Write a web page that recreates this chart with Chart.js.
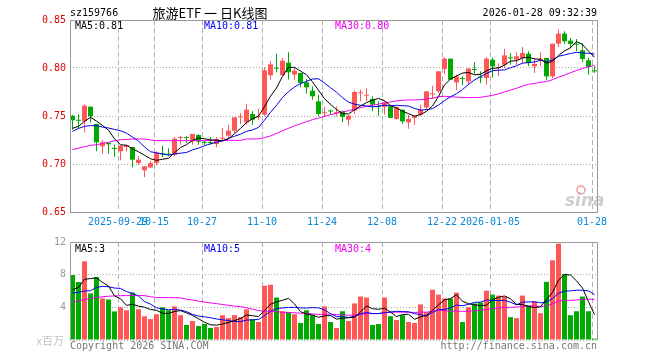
<!DOCTYPE html>
<html>
<head>
<meta charset="utf-8">
<script src="https://cdn.jsdelivr.net/npm/chart.js@4"></script>
<style>
  body { margin: 0; background: #fff; }
  #wrap { position: relative; width: 660px; height: 360px; }
  canvas { position: absolute; left: 0; }
</style>
</head>
<body>
<div id="wrap">
  <canvas id="kChart" width="660" height="232" style="top:0"></canvas>
  <canvas id="volChart" width="660" height="128" style="top:232px"></canvas>
</div>
<script>
// date ticks (index of the trading day the dashed line sits on)
const tickIdx = [8, 14, 22, 32, 42, 52, 62, 70, 87];
const tickLabels = ['2025-09-29', '10-15', '10-27', '11-10', '11-24', '12-08', '12-22', '2026-01-05', '01-28'];
const priceTicks = [0.65, 0.70, 0.75, 0.80, 0.85];
const volTicks = [0, 4, 8, 12];

// daily candles, 2025-09-17 .. 2026-01-28
const open = [0.7503,0.7452,0.7444,0.7597,0.7417,0.7184,0.7219,0.7160,0.7132,0.7177,
  0.7177,0.7010,0.6934,0.6965,0.7010,0.7108,0.7101,0.7097,0.7271,0.7274,
  0.7243,0.7302,0.7222,0.7222,0.7208,0.7264,0.7295,0.7347,0.7486,0.7434,
  0.7521,0.7486,0.7514,0.7924,0.7997,0.7924,0.8056,0.7931,0.7948,0.7850,
  0.7764,0.7653,0.7528,0.7550,0.7529,0.7549,0.7462,0.7556,0.7736,0.7712,
  0.7677,0.7596,0.7594,0.7600,0.7469,0.7566,0.7434,0.7480,0.7514,0.7590,
  0.7726,0.7757,0.7990,0.8097,0.7850,0.7888,0.7861,0.7983,0.7906,0.7896,
  0.8087,0.8000,0.8035,0.8104,0.8087,0.8104,0.8149,0.8017,0.8084,0.8104,
  0.7913,0.8253,0.8358,0.8285,0.8245,0.8184,0.8080,0.7968];
const high = [0.7510,0.7520,0.7620,0.7600,0.7420,0.7253,0.7222,0.7200,0.7195,0.7200,
  0.7180,0.7080,0.6980,0.7030,0.7130,0.7190,0.7165,0.7280,0.7295,0.7290,
  0.7313,0.7310,0.7243,0.7280,0.7280,0.7375,0.7410,0.7490,0.7530,0.7628,
  0.7549,0.7576,0.8007,0.8070,0.8150,0.8104,0.8163,0.8000,0.7950,0.7885,
  0.7810,0.7722,0.7600,0.7566,0.7600,0.7550,0.7510,0.7764,0.7774,0.7790,
  0.7705,0.7653,0.7650,0.7600,0.7600,0.7566,0.7514,0.7503,0.7618,0.7757,
  0.7816,0.7970,0.8115,0.8100,0.7930,0.7913,0.8000,0.8060,0.7965,0.8115,
  0.8111,0.8050,0.8200,0.8156,0.8163,0.8219,0.8174,0.8104,0.8163,0.8104,
  0.8253,0.8400,0.8382,0.8313,0.8302,0.8260,0.8104,0.8017];
const low = [0.7358,0.7370,0.7330,0.7430,0.7132,0.7108,0.7110,0.7073,0.7038,0.7130,
  0.6965,0.6993,0.6861,0.6955,0.6986,0.7070,0.7080,0.7080,0.7200,0.7219,
  0.7200,0.7200,0.7198,0.7200,0.7174,0.7253,0.7270,0.7323,0.7417,0.7410,
  0.7410,0.7462,0.7497,0.7878,0.7955,0.7924,0.7880,0.7880,0.7800,0.7733,
  0.7670,0.7497,0.7490,0.7514,0.7497,0.7434,0.7400,0.7520,0.7653,0.7653,
  0.7549,0.7503,0.7514,0.7480,0.7460,0.7420,0.7368,0.7410,0.7497,0.7566,
  0.7677,0.7740,0.7938,0.7875,0.7767,0.7820,0.7826,0.7940,0.7844,0.7826,
  0.7900,0.7913,0.8000,0.8035,0.8035,0.8052,0.8017,0.7948,0.8017,0.7872,
  0.7896,0.8219,0.8253,0.8208,0.8174,0.8060,0.7930,0.7948];
const close = [0.7455,0.7450,0.7608,0.7497,0.7226,0.7226,0.7205,0.7156,0.7191,0.7198,
  0.7045,0.7045,0.6976,0.7010,0.7115,0.7101,0.7097,0.7264,0.7278,0.7270,
  0.7313,0.7233,0.7220,0.7218,0.7260,0.7270,0.7347,0.7486,0.7490,0.7566,
  0.7462,0.7490,0.7976,0.8038,0.7993,0.8076,0.7955,0.7972,0.7844,0.7799,
  0.7705,0.7521,0.7531,0.7547,0.7535,0.7490,0.7503,0.7750,0.7740,0.7715,
  0.7618,0.7592,0.7635,0.7480,0.7594,0.7444,0.7470,0.7503,0.7566,0.7757,
  0.7730,0.7965,0.8097,0.7878,0.7913,0.7885,0.7993,0.7979,0.7899,0.8097,
  0.8017,0.8010,0.8132,0.8100,0.8122,0.8156,0.8052,0.8042,0.8087,0.7913,
  0.8253,0.8358,0.8278,0.8250,0.8243,0.8094,0.8010,0.7965];
// volume, millions
const vol = [7.96,7.10,9.64,5.70,7.70,5.10,4.96,3.50,4.00,3.64,
  5.80,3.76,2.90,2.56,3.16,4.00,3.64,4.12,3.04,1.84,
  2.32,1.72,1.96,1.48,1.60,3.04,2.68,3.04,2.80,3.76,
  2.56,2.20,6.64,6.76,5.20,3.52,3.40,3.16,2.08,3.64,
  3.04,1.96,4.12,2.20,1.48,3.52,2.32,4.48,5.32,5.20,
  1.84,1.96,5.20,2.92,2.44,3.04,2.20,2.08,4.36,3.40,
  6.16,5.56,5.08,5.08,5.80,2.20,4.00,4.48,4.60,6.04,
  5.56,5.44,5.32,2.80,2.68,5.44,4.24,4.72,3.28,7.12,
  9.76,11.80,8.08,3.04,3.52,5.32,3.52,0.16];

const ma5Head = [0.7372, 0.7392, 0.7444, 0.7486];
const ma10Head = [0.7340, 0.7370, 0.7392, 0.7400, 0.7400, 0.7385, 0.7375, 0.7360, 0.7347];
const ma30Head = [0.7149,0.7165,0.7180,0.7195,0.7200,0.7215,0.7225,0.7243,0.7253,0.7255,
  0.7260,0.7262,0.7260,0.7250,0.7243,0.7243,0.7243,0.7243,0.7243,0.7243,
  0.7243,0.7243,0.7245,0.7245,0.7245,0.7246,0.7246,0.7246,0.7246];
const vma5Head = [6.16, 6.44, 7.44, 7.52];
const vma10Head = [5.76, 5.84, 6.00, 6.04, 6.44, 6.56, 6.52, 6.36, 6.32];
const vma30Head = [4.64,4.80,4.96,5.10,5.20,5.30,5.36,5.40,5.42,5.44,
  5.44,5.44,5.44,5.30,5.20,5.20,5.20,5.18,5.15,5.00,
  4.90,4.75,4.65,4.55,4.45,4.35,4.25,4.15,4.08];

const mono = "'DejaVu Sans Mono', monospace";
const RED = '#ff5656', GREEN = '#00aa00';
const C_MA5 = '#000000', C_MA10 = '#0000ee', C_MA30 = '#ee00ee';

function movingAvg(src, n, head) {
  return src.map((_, i) => {
    if (i < n - 1) return head[i];
    let s = 0;
    for (let k = i - n + 1; k <= i; k++) s += src[k];
    return s / n;
  });
}

const isUp = i => close[i] >= open[i];
const barColor = c => isUp(c.dataIndex) ? RED : GREEN;

const ma5 = movingAvg(close, 5, ma5Head);
const ma10 = movingAvg(close, 10, ma10Head);
const ma30 = movingAvg(close, 30, ma30Head);
const vma5 = movingAvg(vol, 5, vma5Head);
const vma10 = movingAvg(vol, 10, vma10Head);
const vma30 = movingAvg(vol, 30, vma30Head);

const pts = arr => arr.map((v, i) => ({ x: i, y: v }));

function lineSet(data, color) {
  return { type: 'line', data: pts(data), borderColor: color, borderWidth: 1,
    pointRadius: 0, pointHoverRadius: 0, tension: 0, order: 0 };
}

function barSet(data, width) {
  return { type: 'bar', data: data, backgroundColor: barColor, borderWidth: 0,
    grouped: false, barPercentage: 1, categoryPercentage: 1, maxBarThickness: width,
    inflateAmount: 0, minBarLength: 1, order: 1 };
}

// x: one unit per trading day, 6px each
function xAxis(showLabels) {
  return {
    type: 'linear', offset: false,
    min: -0.5 + 1 / 12, max: 87.5 + 1 / 12,
    afterBuildTicks: s => { s.ticks = tickIdx.map(i => ({ value: i - 0.5 + 1 / 12 })); },
    afterFit: s => { s.height = 20; },
    grid: { offset: false, color: '#b0b0b0', drawTicks: false },
    border: { display: false, dash: [5, 3] },
    ticks: { display: showLabels, autoSkip: false, maxRotation: 0, padding: 4,
      color: '#0a88d8', font: { family: mono, size: 10 },
      callback: (v, k) => tickLabels[k] }
  };
}

const kDeco = {
  id: 'kDeco',
  afterDraw(chart) {
    const { ctx, chartArea: a } = chart;
    ctx.save();
    ctx.strokeStyle = '#999';
    ctx.lineWidth = 1;
    ctx.strokeRect(a.left + 0.5, a.top + 0.5, a.right - a.left - 1, a.bottom - a.top);

    ctx.textBaseline = 'middle';
    ctx.font = '10px ' + mono;
    ctx.fillStyle = '#000';
    ctx.textAlign = 'left';
    ctx.fillText('sz159766', 70, 13);
    ctx.textAlign = 'right';
    ctx.fillText('2026-01-28 09:32:39', 597, 13);
    ctx.textAlign = 'center';
    ctx.font = '13px "Noto Sans CJK SC"';
    ctx.fillText('旅游ETF 一 日K线图', 210, 13);

    ctx.font = '10px ' + mono;
    ctx.textAlign = 'left';
    const last = close.length - 1;
    ctx.fillStyle = C_MA5;  ctx.fillText('MA5:' + ma5[last].toFixed(2), 75, 26);
    ctx.fillStyle = C_MA10; ctx.fillText('MA10:' + ma10[last].toFixed(2), 204, 26);
    ctx.fillStyle = C_MA30; ctx.fillText('MA30:' + ma30[last].toFixed(2), 335, 26);

    // sina watermark
    ctx.globalAlpha = 0.55;
    ctx.strokeStyle = '#e04848';
    ctx.lineWidth = 1.5;
    ctx.beginPath();
    ctx.arc(581, 190, 4, 0, Math.PI * 2);
    ctx.stroke();
    ctx.font = 'italic bold 17px "DejaVu Sans"';
    ctx.fillStyle = '#a8a8a8';
    ctx.textBaseline = 'alphabetic';
    ctx.fillText('sina', 565, 206);
    ctx.restore();
  }
};

const volDeco = {
  id: 'volDeco',
  afterDraw(chart) {
    const { ctx, chartArea: a } = chart;
    ctx.save();
    ctx.strokeStyle = '#999';
    ctx.lineWidth = 1;
    ctx.beginPath();
    ctx.moveTo(a.left + 0.5, a.bottom);
    ctx.lineTo(a.left + 0.5, a.top + 0.5);
    ctx.lineTo(a.right - 0.5, a.top + 0.5);
    ctx.lineTo(a.right - 0.5, a.bottom);
    ctx.stroke();

    ctx.textBaseline = 'middle';
    ctx.font = '10px ' + mono;
    ctx.textAlign = 'left';
    const last = vol.length - 1;
    ctx.fillStyle = C_MA5;  ctx.fillText('MA5:' + Math.floor(vma5[last]), 75, a.top + 7);
    ctx.fillStyle = C_MA10; ctx.fillText('MA10:' + Math.floor(vma10[last]), 204, a.top + 7);
    ctx.fillStyle = C_MA30; ctx.fillText('MA30:' + Math.floor(vma30[last]), 335, a.top + 7);

    ctx.fillStyle = '#777';
    ctx.fillText('Copyright 2026 SINA.COM', 70, a.bottom + 6);
    ctx.textAlign = 'right';
    ctx.fillText('http://finance.sina.com.cn', 597, a.bottom + 6);

    ctx.fillStyle = '#c4c4c4';
    ctx.font = '11px "Noto Sans CJK SC"';
    ctx.fillText('x百万', 64, a.bottom + 1);
    ctx.restore();
  }
};

new Chart(document.getElementById('kChart'), {
  type: 'bar',
  data: {
    datasets: [
      lineSet(ma5, C_MA5),
      lineSet(ma10, C_MA10),
      lineSet(ma30, C_MA30),
      barSet(close.map((c, i) => ({ x: i, y: [low[i], high[i]] })), 1),
      barSet(close.map((c, i) => ({ x: i, y: [open[i], c] })), 5)
    ]
  },
  options: {
    responsive: false,
    animation: false,
    events: [],
    layout: { padding: { left: 8, right: 62, top: 20, bottom: 0 } },
    plugins: { legend: { display: false }, tooltip: { enabled: false } },
    scales: {
      x: xAxis(true),
      y: {
        type: 'linear', min: 0.65, max: 0.85, beginAtZero: false,
        afterBuildTicks: s => { s.ticks = priceTicks.map(v => ({ value: v })); },
        afterFit: s => { s.width = 62; },
        grid: { color: '#a8a8a8', drawTicks: false },
        border: { display: false, dash: [1, 2] },
        ticks: { color: '#e00000', padding: 4, font: { family: mono, size: 10 },
          callback: v => v.toFixed(2) }
      }
    }
  },
  plugins: [kDeco]
});

new Chart(document.getElementById('volChart'), {
  type: 'bar',
  data: {
    datasets: [
      lineSet(vma5, C_MA5),
      lineSet(vma10, C_MA10),
      lineSet(vma30, C_MA30),
      barSet(vol.map((v, i) => ({ x: i, y: v })), 5)
    ]
  },
  options: {
    responsive: false,
    animation: false,
    events: [],
    layout: { padding: { left: 8, right: 62, top: 8, bottom: 0 } },
    plugins: { legend: { display: false }, tooltip: { enabled: false } },
    scales: {
      x: xAxis(false),
      y: {
        type: 'linear', min: 0, max: 12,
        afterBuildTicks: s => { s.ticks = volTicks.map(v => ({ value: v })); },
        afterFit: s => { s.width = 62; },
        grid: { color: '#a8a8a8', drawTicks: false },
        border: { display: false, dash: [1, 2] },
        ticks: { color: '#999', padding: 4, font: { family: mono, size: 10 },
          callback: v => v === 0 ? '' : String(v) }
      }
    }
  },
  plugins: [volDeco]
});
</script>
</body>
</html>
